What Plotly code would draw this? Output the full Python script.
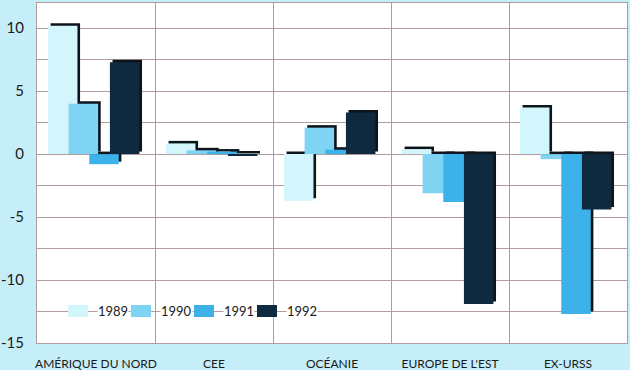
import plotly.graph_objects as go

categories = ["AMÉRIQUE DU NORD", "CEE", "OCÉANIE", "EUROPE DE L'EST", "EX-URSS"]
years = ["1989", "1990", "1991", "1992"]
v1989 = [10.2, 0.85, -3.7, 0.4, 3.7]
v1990 = [4.0, 0.3, 2.1, -3.1, -0.4]
v1991 = [-0.8, 0.2, 0.35, -3.8, -12.7]
v1992 = [7.3, -0.15, 3.3, -11.9, -4.4]
series = [v1989, v1990, v1991, v1992]
colors = ["#d3f5fc", "#7fd3f3", "#3db2ea", "#0f2a3e"]
y_tickvals = [-15, -10, -5, 0, 5, 10]
y_ticktext = ["-15", "-10", "-5", "0", "5", "10"]

SHADOW = "#0c151c"
PAPER = "#c6eef9"
GRID = "#b09c9c"
FONT = "Lato"

W, H = 630, 370
ML, MR, MT, MB = 37, 3, 3, 27
PW, PH = W - ML - MR, H - MT - MB

bar_w = 0.25
offsets = [-0.407, -0.232, -0.057, 0.118]
shadow_dx = 0.022
shadow_dy = 0.2

fig = go.Figure()

# shadows first (all behind the bars)
for vals, off in zip(series, offsets):
    fig.add_trace(go.Bar(
        x=categories, y=vals, base=shadow_dy, width=bar_w, offset=off + shadow_dx,
        marker=dict(color=SHADOW, line=dict(width=0)),
        showlegend=False, hoverinfo="skip"))

for name, vals, col, off in zip(years, series, colors, offsets):
    fig.add_trace(go.Bar(
        x=categories, y=vals, name=name, width=bar_w, offset=off,
        marker=dict(color=col, line=dict(width=0)), showlegend=False))

# legend drawn in the plot area (swatch + label)
def px_x(p):
    return (p - ML) / PW

def px_y(p):
    return (H - MB - p) / PH

leg_x0 = 68
leg_step = 63
leg_yc = 311
for i, (name, col) in enumerate(zip(years, colors)):
    sx = leg_x0 + i * leg_step
    fig.add_shape(type="rect", xref="paper", yref="paper",
                  x0=px_x(sx), x1=px_x(sx + 20), y0=px_y(leg_yc + 6), y1=px_y(leg_yc - 6),
                  fillcolor=col, line=dict(width=0), layer="above")
    fig.add_annotation(xref="paper", yref="paper", x=px_x(sx + 29), y=px_y(leg_yc),
                       text=name, showarrow=False, xanchor="left", yanchor="middle",
                       bgcolor="white", borderpad=0,
                       font=dict(size=13, family=FONT, color="#1a1a1a"))

fig.update_layout(
    width=W, height=H,
    barmode="overlay",
    paper_bgcolor=PAPER, plot_bgcolor="white",
    margin=dict(l=ML, r=MR, t=MT, b=MB),
    font=dict(family=FONT, color="#1a1a1a"),
    showlegend=False,
)
fig.update_xaxes(
    type="category", tickson="boundaries", showgrid=True, gridcolor=GRID, gridwidth=1,
    showline=True, linecolor=GRID, linewidth=1, mirror=True, tickangle=0, automargin=False,
    ticks="", ticklabelstandoff=10, tickfont=dict(size=12, family=FONT),
    zeroline=False, fixedrange=True)
fig.update_yaxes(
    range=[-15, 12], tickvals=y_tickvals, ticktext=y_ticktext,
    showgrid=True, gridcolor=GRID, gridwidth=1, automargin=False,
    minor=dict(dtick=2.5, tick0=0, showgrid=True, gridcolor=GRID, gridwidth=1),
    showline=True, linecolor=GRID, linewidth=1, mirror=True,
    zeroline=False, ticks="", ticklabelstandoff=9,
    tickfont=dict(size=15, family=FONT), fixedrange=True)

fig.write_html("out.html", config={"displayModeBar": False},
               post_script="document.body.style.margin='0';document.body.style.background='%s';" % PAPER)
